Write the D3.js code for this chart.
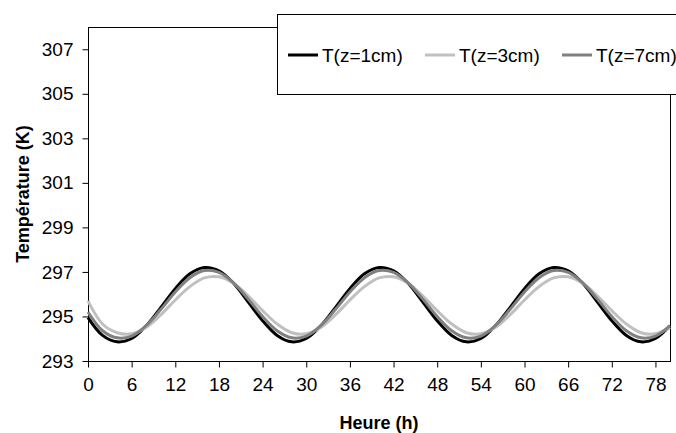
<!DOCTYPE html>
<html>
<head>
<meta charset="utf-8">
<script src="https://cdn.jsdelivr.net/npm/d3@7"></script>
<style>
  body { margin: 0; background: #fff; }
  svg { display: block; font-family: Arial, "Liberation Sans", sans-serif; }
</style>
</head>
<body>
<div id="chart"></div>
<script>
// hours, sampled every 2 h
const hours = d3.range(0, 81, 2);

const seriesNames = ["T(z=1cm)", "T(z=3cm)", "T(z=7cm)"];
const seriesColors = ["#000000", "#c0c0c0", "#808080"];

const t1cm = [294.95, 294.15, 293.86, 294.01, 294.58, 295.40, 296.25, 296.92, 297.20, 297.05, 296.49, 295.66,
              294.81, 294.15, 293.86, 294.01, 294.58, 295.40, 296.25, 296.92, 297.20, 297.05, 296.49, 295.66,
              294.81, 294.15, 293.86, 294.01, 294.58, 295.40, 296.25, 296.92, 297.20, 297.05, 296.49, 295.66,
              294.81, 294.15, 293.86, 294.01, 294.58];
const t3cm = [295.70, 294.66, 294.27, 294.22, 294.51, 295.07, 295.74, 296.34, 296.73, 296.78, 296.49, 295.93,
              295.26, 294.66, 294.27, 294.22, 294.51, 295.07, 295.74, 296.34, 296.73, 296.78, 296.49, 295.93,
              295.26, 294.66, 294.27, 294.22, 294.51, 295.07, 295.74, 296.34, 296.73, 296.78, 296.49, 295.93,
              295.26, 294.66, 294.27, 294.22, 294.51];
const t7cm = [295.20, 294.36, 294.04, 294.12, 294.59, 295.31, 296.10, 296.74, 297.06, 296.98, 296.51, 295.79,
              295.00, 294.36, 294.04, 294.12, 294.59, 295.31, 296.10, 296.74, 297.06, 296.98, 296.51, 295.79,
              295.00, 294.36, 294.04, 294.12, 294.59, 295.31, 296.10, 296.74, 297.06, 296.98, 296.51, 295.79,
              295.00, 294.36, 294.04, 294.12, 294.59];

const xTicks = d3.range(0, 79, 6);
const yTicks = [293, 295, 297, 299, 301, 303, 305, 307];

const width = 676, height = 433;
const margin = {top: 27, right: 6, bottom: 72, left: 88};

const svg = d3.select("#chart").append("svg")
    .attr("width", width)
    .attr("height", height);

const x = d3.scaleLinear().domain([0, 80]).range([margin.left, width - margin.right]);
const y = d3.scaleLinear().domain([293, 308]).range([height - margin.bottom, margin.top]);

// plot frame
svg.append("rect")
    .attr("x", x(0) + 0.5).attr("y", y(308) + 0.5)
    .attr("width", x(80) - x(0)).attr("height", y(293) - y(308))
    .attr("fill", "none").attr("stroke", "#000").attr("stroke-width", 1);

const xAxis = svg.append("g")
    .attr("transform", "translate(0," + (y(293) + 0.5) + ")")
    .call(d3.axisBottom(x).tickValues(xTicks).tickSize(6).tickPadding(10).tickSizeOuter(0));
const yAxis = svg.append("g")
    .attr("transform", "translate(" + (x(0) + 0.5) + ",0)")
    .call(d3.axisLeft(y).tickValues(yTicks).tickSize(6).tickPadding(9).tickSizeOuter(0));

[xAxis, yAxis].forEach(function(g) {
    g.select(".domain").remove();
    g.selectAll("text").attr("font-size", 19).attr("fill", "#000")
        .attr("font-family", "Arial, 'Liberation Sans', sans-serif");
    g.selectAll("line").attr("stroke", "#000");
});

// curves
const data = [t1cm, t3cm, t7cm];
const line = d3.line()
    .x(function(d, i) { return x(hours[i]); })
    .y(function(d) { return y(d); })
    .curve(d3.curveCatmullRom);

svg.append("g").selectAll("path")
    .data(data)
    .enter().append("path")
    .attr("d", line)
    .attr("fill", "none")
    .attr("stroke", function(d, i) { return seriesColors[i]; })
    .attr("stroke-width", 3);

// axis titles
svg.append("text")
    .attr("x", (x(0) + x(80)) / 2).attr("y", 429)
    .attr("text-anchor", "middle")
    .attr("font-size", 18).attr("font-weight", "bold")
    .text("Heure (h)");

svg.append("text")
    .attr("transform", "translate(29," + ((y(293) + y(308)) / 2) + ") rotate(-90)")
    .attr("text-anchor", "middle")
    .attr("font-size", 18).attr("font-weight", "bold")
    .text("Température (K)");

// legend
const legend = svg.append("g");
legend.append("rect")
    .attr("x", 277.5).attr("y", 14.5)
    .attr("width", 410).attr("height", 80)
    .attr("fill", "#fff").attr("stroke", "#000");

const legendX = [288, 425, 562];
const item = legend.selectAll("g.item")
    .data(seriesNames)
    .enter().append("g")
    .attr("class", "item")
    .attr("transform", function(d, i) { return "translate(" + legendX[i] + ",55)"; });

item.append("line")
    .attr("x1", 0).attr("x2", 30)
    .attr("stroke", function(d, i) { return seriesColors[i]; })
    .attr("stroke-width", 3);

item.append("text")
    .attr("x", 34).attr("dy", "0.35em")
    .attr("font-size", 19)
    .text(function(d) { return d; });
</script>
</body>
</html>
